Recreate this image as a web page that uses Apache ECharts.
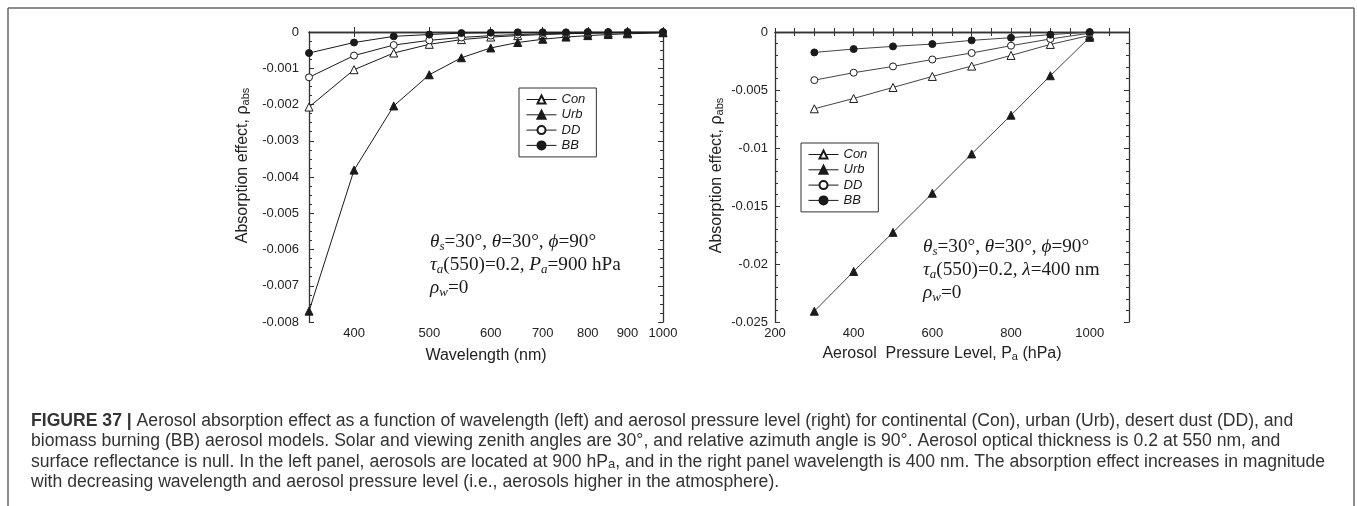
<!DOCTYPE html>
<html>
<head>
<meta charset="utf-8">
<script src="https://cdn.jsdelivr.net/npm/echarts@6/dist/echarts.min.js"></script>
<style>
  html, body { margin: 0; padding: 0; background: #fff; }
  #chart { width: 1357px; height: 506px; }
</style>
</head>
<body>
<div id="chart"></div>
<script>
// Left panel: absorption effect vs wavelength (nm)
const wavelengths = [350, 400, 450, 500, 550, 600, 650, 700, 750, 800, 850, 900, 1000];
const wavelengthTicks = [400, 500, 600, 700, 800, 900, 1000];
const conByWavelength = [-0.00207, -0.00104, -0.00058, -0.00034, -0.00021, -0.00014, -0.0001, -0.00007, -0.00005, -0.00003, -0.00002, -0.00002, -0.00001];
const urbByWavelength = [-0.0077, -0.00381, -0.00204, -0.00118, -0.00071, -0.00044, -0.00029, -0.0002, -0.00014, -0.0001, -0.00007, -0.00005, -0.00002];
const ddByWavelength  = [-0.00125, -0.00065, -0.00036, -0.00023, -0.00015, -0.0001, -0.00007, -0.00005, -0.00004, -0.00003, -0.00002, -0.00001, -0.00001];
const bbByWavelength  = [-0.00058, -0.00029, -0.00012, -0.00007, -0.00003, -0.00002, -0.00001, -0.00001, -0.00001, 0, 0, 0, 0];

// Right panel: absorption effect vs aerosol pressure level (hPa)
const pressures = [300, 400, 500, 600, 700, 800, 900, 1000];
const conByPressure = [-0.00662, -0.00573, -0.00478, -0.00383, -0.00294, -0.00202, -0.00107, -0.0003];
const urbByPressure = [-0.02407, -0.02064, -0.01727, -0.0139, -0.01051, -0.00717, -0.00377, -0.00046];
const ddByPressure  = [-0.00415, -0.00351, -0.00297, -0.00237, -0.00181, -0.00118, -0.0006, -0.0001];
const bbByPressure  = [-0.00176, -0.00147, -0.00124, -0.00104, -0.00072, -0.00049, -0.00023, 0];

const modelNames = ['Con', 'Urb', 'DD', 'BB'];

const INK = '#1a1a1a';
const AXIS = '#333';
const SANS = '"Liberation Sans", Arial, sans-serif';
const SERIF = '"Liberation Serif", "Times New Roman", serif';

// marker look of each aerosol model: [symbol, filled]
const markerStyle = {
  Con: ['triangle', false],
  Urb: ['triangle', true],
  DD:  ['circle', false],
  BB:  ['circle', true]
};

function zip(xs, ys) { return xs.map((x, i) => [x, ys[i]]); }

function modelSeries(name, xs, ys, axisIdx, lineColor) {
  const [symbol, filled] = markerStyle[name];
  return {
    type: 'line',
    name: name,
    xAxisIndex: axisIdx.x,
    yAxisIndex: axisIdx.y,
    data: zip(xs, ys),
    symbol: symbol,
    symbolSize: symbol === 'triangle' ? 8 : 7,
    showSymbol: true,
    lineStyle: { color: lineColor, width: 1 },
    itemStyle: { color: filled ? INK : '#fff', borderColor: INK, borderWidth: 1 },
    emphasis: { disabled: true },
    z: 3
  };
}

const tickLabel = { fontFamily: SANS, fontSize: 13, color: '#222' };
const axisLine = { show: true, lineStyle: { color: AXIS, width: 1.3 } };

function mirrorAxis(base) {
  return Object.assign({}, base, {
    axisLabel: Object.assign({}, base.axisLabel, { show: false }),
    name: ''
  });
}

const yName = 'Absorption effect, \u03c1{sub|abs}';
const nameStyle = {
  fontFamily: SANS, fontSize: 16, color: '#222',
  rich: { sub: { fontFamily: SANS, fontSize: 11, color: '#222', verticalAlign: 'bottom', lineHeight: 10 } }
};

// ---- left panel axes
const xWave = {
  type: 'log', logBase: 10, gridIndex: 0, min: 350, max: 1000, position: 'bottom',
  axisLine: axisLine,
  axisTick: { inside: true, length: 5, customValues: wavelengthTicks, lineStyle: { color: AXIS } },
  axisLabel: Object.assign({ margin: 5, customValues: wavelengthTicks, formatter: v => String(Math.round(v)) }, tickLabel),
  minorTick: { show: false },
  splitLine: { show: false },
  name: 'Wavelength (nm)', nameLocation: 'middle', nameGap: 26,
  nameTextStyle: nameStyle
};
const yWave = {
  type: 'value', gridIndex: 0, min: -0.008, max: 0, interval: 0.001, position: 'left',
  axisLine: axisLine,
  axisTick: { inside: true, length: 5, lineStyle: { color: AXIS } },
  minorTick: { show: true, splitNumber: 4, length: 3, lineStyle: { color: AXIS } },
  axisLabel: Object.assign({ margin: 10 }, tickLabel),
  splitLine: { show: false },
  name: yName, nameLocation: 'middle', nameGap: 58,
  nameTextStyle: Object.assign({}, nameStyle, { padding: [0, 0, 0, 23] })
};

// ---- right panel axes
const xPres = {
  type: 'value', gridIndex: 1, min: 200, max: 1100, interval: 50, position: 'bottom',
  axisLine: axisLine,
  axisTick: { inside: true, length: 4, lineStyle: { color: AXIS } },
  axisLabel: Object.assign({ margin: 5, formatter: v => (v % 200 === 0 ? String(v) : '') }, tickLabel),
  splitLine: { show: false },
  name: 'Aerosol  Pressure Level, P{sub|a} (hPa)', nameLocation: 'middle', nameGap: 24,
  nameTextStyle: Object.assign({}, nameStyle, { padding: [0, 20, 0, 0] })
};
const yPres = {
  type: 'value', gridIndex: 1, min: -0.025, max: 0, interval: 0.005, position: 'left',
  axisLine: axisLine,
  axisTick: { inside: true, length: 5, lineStyle: { color: AXIS } },
  minorTick: { show: true, splitNumber: 5, length: 3, lineStyle: { color: AXIS } },
  axisLabel: Object.assign({ margin: 7 }, tickLabel),
  splitLine: { show: false },
  name: yName, nameLocation: 'middle', nameGap: 50,
  nameTextStyle: Object.assign({}, nameStyle, { padding: [0, 0, 0, 3] })
};

const legendBase = {
  orient: 'vertical', data: modelNames, itemWidth: 30, itemHeight: 10, itemGap: 2.3,
  padding: [5, 11, 5, 7], borderColor: AXIS, borderWidth: 1, backgroundColor: '#fff',
  selectedMode: false,
  lineStyle: { width: 1, color: INK },
  textStyle: { fontFamily: SANS, fontStyle: 'italic', fontSize: 13, color: INK }
};

// rich-text conditions box in Times-like italic with subscripts
const COND = 19.2;
const condRich = {
  i: { fontFamily: SERIF, fontStyle: 'italic', fontSize: COND, color: INK, lineHeight: 23 },
  n: { fontFamily: SERIF, fontSize: COND, color: INK, lineHeight: 23 },
  s: { fontFamily: SERIF, fontStyle: 'italic', fontSize: 13, color: INK, lineHeight: 11, verticalAlign: 'bottom' }
};
const condLeft = [
  '{i|\u03b8}{s|s}{n|=30\u00b0, }{i|\u03b8}{n|=30\u00b0, }{i|\u03d5}{n|=90\u00b0}',
  '{i|\u03c4}{s|a}{n|(550)=0.2, }{i|P}{s|a}{n|=900 hPa}',
  '{i|\u03c1}{s|w}{n|=0}'
].join('\n');
const condRight = [
  '{i|\u03b8}{s|s}{n|=30\u00b0, }{i|\u03b8}{n|=30\u00b0, }{i|\u03d5}{n|=90\u00b0}',
  '{i|\u03c4}{s|a}{n|(550)=0.2, }{i|\u03bb}{n|=400 nm}',
  '{i|\u03c1}{s|w}{n|=0}'
].join('\n');

const captionLines = [
  '{b|FIGURE 37 |} Aerosol absorption effect as a function of wavelength (left) and aerosol pressure level (right) for continental (Con), urban (Urb), desert dust (DD), and',
  'biomass burning (BB) aerosol models. Solar and viewing zenith angles are 30\u00b0, and relative azimuth angle is 90\u00b0. Aerosol optical thickness is 0.2 at 550 nm, and',
  'surface reflectance is null. In the left panel, aerosols are located at 900 hP{sub|a}, and in the right panel wavelength is 400 nm. The absorption effect increases in magnitude',
  'with decreasing wavelength and aerosol pressure level (i.e., aerosols higher in the atmosphere).'
];
const CAP_SIZE = 17.6;
const captionRich = {
  b: { fontFamily: SANS, fontWeight: 'bold', fontSize: CAP_SIZE, color: '#222' },
  sub: { fontFamily: SANS, fontSize: 13, color: '#333', verticalAlign: 'bottom', lineHeight: 12 }
};
const captionTop = [421, 441.5, 462, 482];

const frameStyle = { stroke: '#666', lineWidth: 1.5 };

const option = {
  animation: false,
  backgroundColor: '#fff',
  grid: [
    { left: 309, top: 32, width: 354, height: 290, containLabel: false },
    { left: 775, top: 32, width: 354, height: 290, containLabel: false }
  ],
  xAxis: [
    xWave,
    Object.assign(mirrorAxis(xWave), { position: 'top' }),
    xPres,
    Object.assign(mirrorAxis(xPres), { position: 'top' })
  ],
  yAxis: [
    yWave,
    Object.assign(mirrorAxis(yWave), { position: 'right' }),
    yPres,
    Object.assign(mirrorAxis(yPres), { position: 'right' })
  ],
  legend: [
    Object.assign({ left: 519, top: 88 }, legendBase),
    Object.assign({ left: 801, top: 143 }, legendBase)
  ],
  series: [
    modelSeries('Con', wavelengths, conByWavelength, { x: 0, y: 0 }, INK),
    modelSeries('Urb', wavelengths, urbByWavelength, { x: 0, y: 0 }, INK),
    modelSeries('DD', wavelengths, ddByWavelength, { x: 0, y: 0 }, INK),
    modelSeries('BB', wavelengths, bbByWavelength, { x: 0, y: 0 }, INK),
    modelSeries('Con', pressures, conByPressure, { x: 2, y: 2 }, '#444'),
    modelSeries('Urb', pressures, urbByPressure, { x: 2, y: 2 }, '#444'),
    modelSeries('DD', pressures, ddByPressure, { x: 2, y: 2 }, '#444'),
    modelSeries('BB', pressures, bbByPressure, { x: 2, y: 2 }, '#444')
  ],
  graphic: [
    { type: 'line', shape: { x1: 8, y1: 8, x2: 1354, y2: 8 }, style: frameStyle },
    { type: 'line', shape: { x1: 8, y1: 8, x2: 8, y2: 506 }, style: frameStyle },
    { type: 'line', shape: { x1: 1354, y1: 8, x2: 1354, y2: 506 }, style: frameStyle },
    { type: 'text', x: 430, y: 230, style: { text: condLeft, rich: condRich, font: COND + 'px ' + SERIF, fill: INK, lineHeight: 23 } },
    { type: 'text', x: 923, y: 235, style: { text: condRight, rich: condRich, font: COND + 'px ' + SERIF, fill: INK, lineHeight: 23 } }
  ].concat(captionLines.map((t, i) => ({
    type: 'text', x: 31, y: captionTop[i],
    style: {
      text: t, rich: captionRich, fill: '#333',
      font: CAP_SIZE + 'px ' + SANS, verticalAlign: 'middle'
    }
  })))
};

const chart = echarts.init(document.getElementById('chart'), null, { renderer: 'canvas' });
chart.setOption(option);
</script>
</body>
</html>
